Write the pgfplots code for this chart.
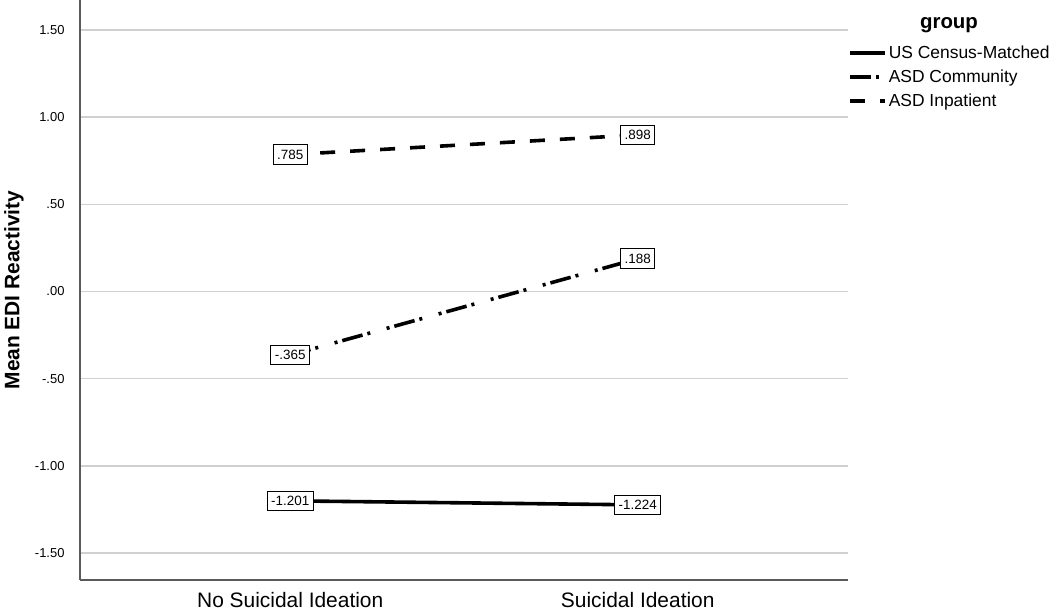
\documentclass[border=0pt]{standalone}
\usepackage{pgfplots}
\pgfplotsset{compat=1.18}
\usepackage{fontspec}
\setmainfont{Liberation Sans}

\definecolor{gridgray}{RGB}{208,208,208}
\definecolor{axisgray}{RGB}{90,90,90}

\begin{document}
\begin{tikzpicture}
\useasboundingbox (0,0) rectangle (1050bp,612bp);
\begin{axis}[
  at={(80bp,32bp)}, anchor=south west,
  scale only axis,
  width=768bp, height=580bp,
  xmin=-0.605, xmax=1.605,
  ymin=-1.655, ymax=1.672,
  axis x line*=bottom, axis y line*=left,
  axis line style={axisgray, line width=1.2bp},
  separate axis lines,
  x axis line style={-}, y axis line style={-},
  xtick={0,1}, xticklabels={No Suicidal Ideation, Suicidal Ideation},
  ytick={-1.5,-1,-0.5,0,0.5,1,1.5},
  yticklabels={-1.50,-1.00,-.50,.00,.50,1.00,1.50},
  major tick length=0pt,
  ymajorgrids, grid style={gridgray, line width=1.5bp},
  xticklabel style={font=\fontsize{21}{24}\selectfont, yshift=-9bp},
  yticklabel style={font=\fontsize{13}{15}\selectfont, xshift=-12bp},
  ylabel={\textbf{Mean EDI Reactivity}},
  ylabel style={at={(axis description cs:-0.086,0.5)}, anchor=center, font=\fontsize{21}{25}\selectfont},
  point meta=explicit symbolic,
  nodes near coords={\pgfplotspointmeta},
  every node near coord/.append style={anchor=center, draw=black, fill=white, solid, line width=0.9bp,
     inner xsep=4bp, inner ysep=5bp, font=\fontsize{13.5}{15}\selectfont},
  legend cell align=left,
  legend style={at={(rel axis cs:1,0.925)}, anchor=north west, draw=none, fill=none,
     inner sep=0pt, row sep=6bp, font=\fontsize{17.5}{20}\selectfont,
     /tikz/every even column/.append style={column sep=1bp}},
  legend image code/.code={\draw[#1] (0bp,0bp) -- (35bp,0bp);},
  clip=false,
]
\addplot[black, line width=3.6bp] coordinates {(0,-1.201) [-1.201] (1,-1.224) [-1.224]};
\addlegendentry{US Census-Matched}
\addplot[black, line width=3.6bp, dash pattern=on 3bp off 5bp on 21bp off 5bp on 3bp off 17bp, dash phase=8bp] coordinates {(0,-0.365) [-.365] (1,0.188) [.188]};
\addlegendentry{ASD Community}
\addplot[black, line width=3.6bp, dash pattern=on 15bp off 15bp] coordinates {(0,0.785) [.785] (1,0.898) [.898]};
\addlegendentry{ASD Inpatient}
\node[font=\fontsize{20.5}{24}\selectfont\bfseries, anchor=base] at (rel axis cs:1.1315,0.9517) {group};
\end{axis}
\end{tikzpicture}
\end{document}
